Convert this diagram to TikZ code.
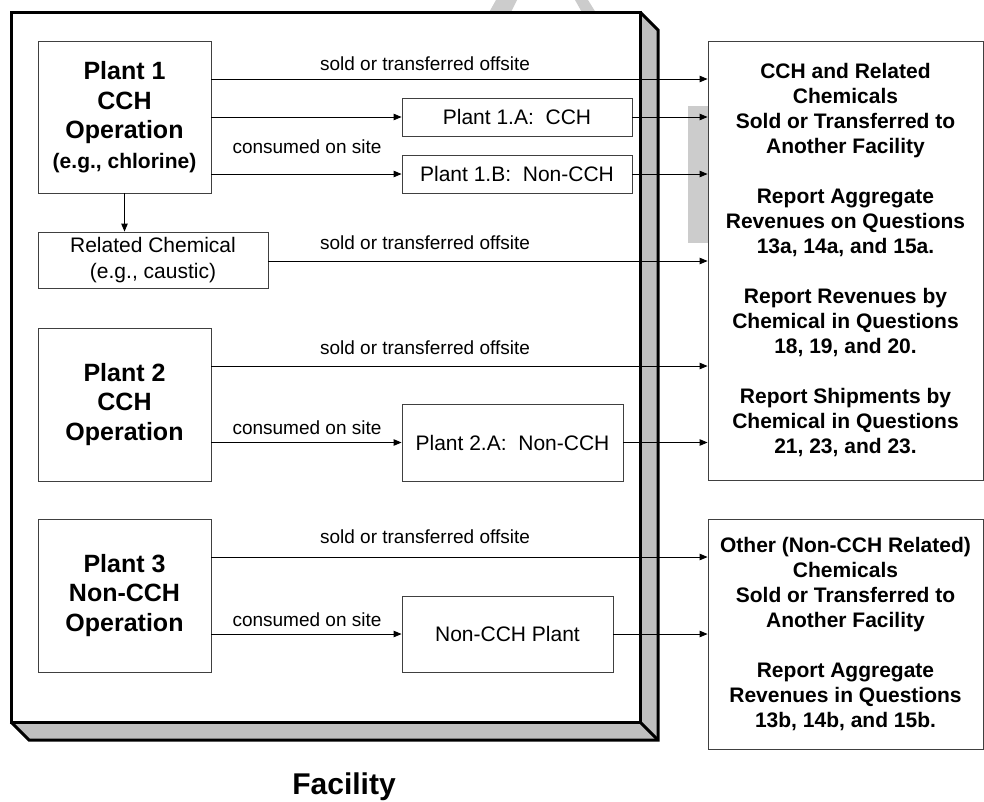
\documentclass[tikz,border=0pt]{standalone}
\usepackage{fontspec}
\setmainfont{Liberation Sans}
\usetikzlibrary{arrows.meta}
\begin{document}
\begin{tikzpicture}[x=1pt,y=-1pt,
  box/.style={draw=black!75, line width=0.9pt, fill=white, inner sep=0pt, align=center},
  plantbox/.style={box, minimum width=173pt, minimum height=153pt, font=\fontsize{25}{29.5}\selectfont\bfseries},
  subbox/.style={box, font=\fontsize{21}{26}\selectfont},
  outbox/.style={box, minimum width=275pt, font=\fontsize{21}{25}\selectfont\bfseries},
  lbl/.style={font=\fontsize{19}{22}\selectfont, inner sep=0pt},
  conn/.style={draw=black, line width=0.9pt},
  arr/.style={conn, -{Triangle[length=8pt,width=6.5pt]}},
  wmark/.style={fill=black!20},
  shade3d/.style={fill=black!25},
  thick3d/.style={line width=3pt, line join=miter}
]
\useasboundingbox (0,0) rectangle (984,801);
% watermark fragments
\fill[wmark] (487,16) -- (496,0) -- (517,0) -- (509,16) -- cycle;
\fill[wmark] (575,0) -- (588,0) -- (598,16) -- (584,16) -- cycle;
\fill[wmark] (688,106) rectangle (708,243);
% facility 3D box
\fill[shade3d] (640,12) -- (658,30) -- (658,740) -- (29,740) -- (11,722) -- (640,722) -- cycle;
\draw[thick3d] (640,12) -- (658,30) -- (658,740) -- (29,740) -- (11,722);
\draw[thick3d] (640,722) -- (658,740);
\node[draw, thick3d, fill=white, minimum width=629pt, minimum height=710pt, inner sep=0pt] (fac) at (325.5,367) {};
% plants
\node[plantbox, minimum height=152pt] (p1) at (124.5,117) {Plant 1\\CCH\\Operation\\{\fontsize{21}{29.5}\selectfont (e.g., chlorine)}};
\node[subbox, minimum width=230pt, minimum height=56pt] (rc) at (153,260) {Related Chemical\\(e.g., caustic)};
\node[subbox, minimum width=230pt, minimum height=38pt] (p1a) at (517,117) {Plant 1.A:\ \ CCH};
\node[subbox, minimum width=230pt, minimum height=38pt] (p1b) at (517,174) {Plant 1.B:\ \ Non-CCH};
\node[plantbox] (p2) at (124.5,404.5) {Plant 2\\CCH\\Operation};
\node[subbox, minimum width=221pt, minimum height=77pt] (p2a) at (512.5,442.5) {Plant 2.A:\ \ Non-CCH};
\node[plantbox] (p3) at (124.5,595.5) {Plant 3\\Non-CCH\\Operation};
\node[subbox, minimum width=211pt, minimum height=76pt] (np) at (507.5,634) {Non-CCH Plant};
% outputs
\node[outbox, minimum height=439pt] (r1) at (845.5,260.5) {CCH and Related\\Chemicals\\Sold or Transferred to\\Another Facility\\[25pt]Report Aggregate\\Revenues on Questions\\13a, 14a, and 15a.\\[25pt]Report Revenues by\\Chemical in Questions\\18, 19, and 20.\\[25pt]Report Shipments by\\Chemical in Questions\\21, 23, and 23.};
\node[outbox, minimum height=230pt] (r2) at (845.5,634) {Other (Non-CCH Related)\\Chemicals\\Sold or Transferred to\\Another Facility\\[25pt]Report Aggregate\\Revenues in Questions\\13b, 14b, and 15b.};
% labels
\node[lbl] (l1) at (425,64) {sold or transferred offsite};
\node[lbl] (l2) at (307,147) {consumed on site};
\node[lbl] (l3) at (425,243) {sold or transferred offsite};
\node[lbl] (l4) at (425,348) {sold or transferred offsite};
\node[lbl] (l5) at (307,428) {consumed on site};
\node[lbl] (l6) at (425,537) {sold or transferred offsite};
\node[lbl] (l7) at (307,620) {consumed on site};
\node[font=\fontsize{30}{36}\selectfont\bfseries, anchor=base, inner sep=0pt] (facl) at (344,794) {Facility};
% connectors
\draw[arr] (p1.east |- 0,79) -- (r1.west |- 0,79);
\draw[arr] (p1.east |- p1a.west) -- (p1a.west);
\draw[arr] (p1a.east) -- (r1.west |- p1a.east);
\draw[arr] (p1.east |- p1b.west) -- (p1b.west);
\draw[arr] (p1b.east) -- (r1.west |- p1b.east);
\draw[arr] (p1.south) -- (rc.north -| p1.south);
\draw[arr] (rc.east |- 0,261) -- (r1.west |- 0,261);
\draw[arr] (p2.east |- 0,366) -- (r1.west |- 0,366);
\draw[arr] (p2.east |- p2a.west) -- (p2a.west);
\draw[arr] (p2a.east) -- (r1.west |- p2a.east);
\draw[arr] (p3.east |- 0,557) -- (r2.west |- 0,557);
\draw[arr] (p3.east |- np.west) -- (np.west);
\draw[arr] (np.east) -- (r2.west |- np.east);
\end{tikzpicture}
\end{document}
